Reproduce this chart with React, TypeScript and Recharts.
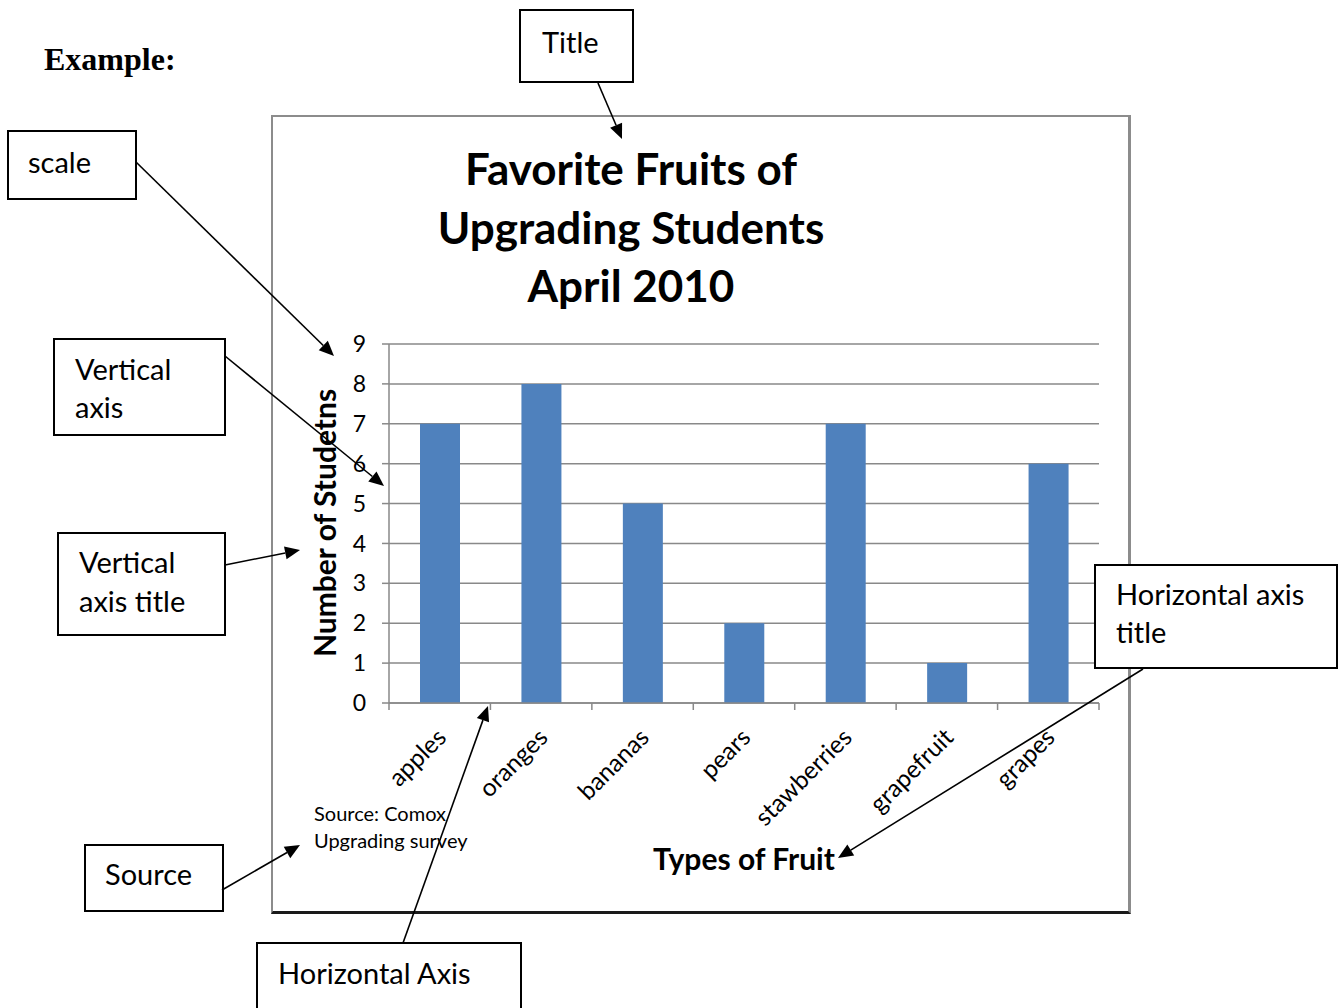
import React from 'react';
import { BarChart, Bar, XAxis, YAxis, CartesianGrid } from 'recharts';

const categories = ['apples', 'oranges', 'bananas', 'pears', 'stawberries', 'grapefruit', 'grapes'];
const students = [7, 8, 5, 2, 7, 1, 6];
const yTicks = [0, 1, 2, 3, 4, 5, 6, 7, 8, 9];
const xTicks = [0, 0.5, 1, 1.5, 2, 2.5, 3, 3.5, 4, 4.5, 5, 5.5, 6, 6.5, 7];
const titleLines = ['Favorite Fruits of', 'Upgrading Students', 'April 2010'];
const yAxisTitle = 'Number of Studetns';
const xAxisTitle = 'Types of Fruit';
const sourceLines = ['Source: Comox', 'Upgrading survey'];

// category i sits in the middle of slot [i, i+1]
const data = categories.map((name, i) => ({ name, slot: i + 0.5, students: students[i] }));

const FONT = "Lato, 'Open Sans', sans-serif";
const GRID = '#898989';
const BAR = '#4F81BD';

const FruitTick = (props: any) => {
  const { x, y, payload } = props;
  const v = payload.value as number;
  if (Number.isInteger(v)) {
    return <line x1={x} y1={y} x2={x} y2={y + 7} stroke={GRID} strokeWidth={1.5} />;
  }
  const label = categories[Math.floor(v)];
  const tx = x + 8;
  const ty = y + 36;
  return (
    <text
      x={tx}
      y={ty}
      textAnchor="end"
      fontSize={24.5}
      fontFamily={FONT}
      fill="#000"
      transform={`rotate(-45 ${tx} ${ty})`}
    >
      {label}
    </text>
  );
};

const Arrow = ({ x1, y1, x2, y2 }: { x1: number; y1: number; x2: number; y2: number }) => {
  const ang = Math.atan2(y2 - y1, x2 - x1);
  const L = 15;
  const W = 6.5;
  const bx = x2 - L * Math.cos(ang);
  const by = y2 - L * Math.sin(ang);
  const px = -Math.sin(ang) * W;
  const py = Math.cos(ang) * W;
  return (
    <g>
      <line x1={x1} y1={y1} x2={bx} y2={by} stroke="#000" strokeWidth={1.6} />
      <polygon points={`${x2},${y2} ${bx + px},${by + py} ${bx - px},${by - py}`} fill="#000" />
    </g>
  );
};

const Box = ({ x, y, w, h, lines, tx, ty }: { x: number; y: number; w: number; h: number; lines: string[]; tx: number; ty: number[] }) => (
  <g>
    <rect x={x} y={y} width={w} height={h} fill="#fff" stroke="#000" strokeWidth={2} />
    {lines.map((l, i) => (
      <text key={i} x={tx} y={ty[i]} fontSize={29} fontFamily={FONT} fill="#000">
        {l}
      </text>
    ))}
  </g>
);

export default function App() {
  return (
    <div style={{ position: 'absolute', left: 0, top: 0, width: 1340, height: 1008, background: '#fff', overflow: 'hidden' }}>
      <div
        style={{
          position: 'absolute',
          left: 271,
          top: 115,
          width: 855,
          height: 794,
          borderLeft: '2px solid #8c8c8c',
          borderTop: '2px solid #8c8c8c',
          borderRight: '3px solid #8c8c8c',
          borderBottom: '3px solid #1a1a1a',
        }}
      />
      <div style={{ position: 'absolute', left: 0, top: 0 }}>
        <BarChart
          width={1340}
          height={1008}
          data={data}
          margin={{ top: 344, right: 241, bottom: 205, left: 329 }}
        >
          <CartesianGrid vertical={false} stroke={GRID} strokeWidth={1.5} />
          <XAxis
            dataKey="slot"
            type="number"
            domain={[0, 7]}
            allowDataOverflow
            ticks={xTicks}
            interval={0}
            tickLine={false}
            tickSize={0}
            tickMargin={0}
            axisLine={{ stroke: GRID, strokeWidth: 1.5 }}
            tick={<FruitTick />}
            height={100}
          />
          <YAxis
            width={60}
            domain={[0, 9]}
            ticks={yTicks}
            interval={0}
            tickSize={7}
            tickMargin={16}
            tickLine={{ stroke: GRID, strokeWidth: 1.5 }}
            axisLine={{ stroke: GRID, strokeWidth: 1.5 }}
            tick={{ fontSize: 23, fill: '#000', fontFamily: FONT }}
          />
          <Bar dataKey="students" fill={BAR} barSize={40} isAnimationActive={false} />
        </BarChart>
      </div>
      <svg width={1340} height={1008} style={{ position: 'absolute', left: 0, top: 0, pointerEvents: 'none' }}>
        <text x={44} y={70} fontSize={32} fontWeight="bold" fontFamily="'Liberation Serif', 'Times New Roman', serif">
          Example:
        </text>
        {titleLines.map((t, i) => (
          <text key={i} x={631} y={[185, 244, 302][i]} textAnchor="middle" fontSize={44} fontWeight="bold" fontFamily={FONT}>
            {t}
          </text>
        ))}
        <text
          x={336}
          y={523}
          textAnchor="middle"
          fontSize={30}
          fontWeight="bold"
          fontFamily={FONT}
          transform="rotate(-90 336 523)"
        >
          {yAxisTitle}
        </text>
        <text x={744} y={870} textAnchor="middle" fontSize={30} fontWeight="bold" fontFamily={FONT}>
          {xAxisTitle}
        </text>
        {sourceLines.map((t, i) => (
          <text key={i} x={314} y={[821, 848][i]} fontSize={20} fontFamily={FONT}>
            {t}
          </text>
        ))}

        <Box x={520} y={10} w={113} h={72} lines={['Title']} tx={542} ty={[53]} />
        <Box x={8} y={131} w={128} h={68} lines={['scale']} tx={28} ty={[173]} />
        <Box x={54} y={339} w={171} h={96} lines={['Vertical', 'axis']} tx={75} ty={[380, 418]} />
        <Box x={58} y={533} w={167} h={102} lines={['Vertical', 'axis title']} tx={79} ty={[573, 612]} />
        <Box x={85} y={845} w={138} h={66} lines={['Source']} tx={105} ty={[885]} />
        <Box x={257} y={943} w={264} h={80} lines={['Horizontal Axis']} tx={278} ty={[984]} />
        <Box x={1095} y={565} w={242} h={103} lines={['Horizontal axis', 'title']} tx={1116} ty={[605, 643]} />

        <Arrow x1={598} y1={83} x2={622} y2={139} />
        <Arrow x1={136} y1={162} x2={334} y2={356} />
        <Arrow x1={225} y1={356} x2={384} y2={486} />
        <Arrow x1={225} y1={565} x2={300} y2={550} />
        <Arrow x1={222} y1={890} x2={300} y2={845} />
        <Arrow x1={403} y1={943} x2={488} y2={706} />
        <Arrow x1={1143} y1={669} x2={838} y2={858} />
      </svg>
    </div>
  );
}
